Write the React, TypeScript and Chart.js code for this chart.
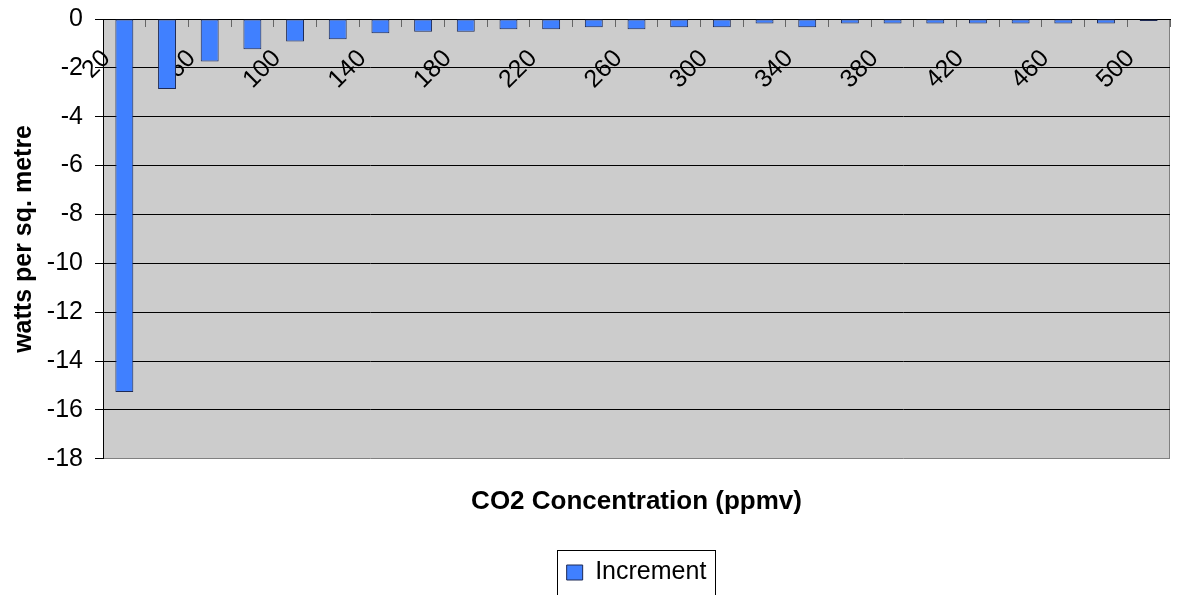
import React, { useEffect, useRef } from "react";
import { Chart, registerables } from "chart.js";

Chart.register(...registerables);

const categories: string[] = [
  "20", "40", "60", "80", "100", "120", "140", "160", "180", "200",
  "220", "240", "260", "280", "300", "320", "340", "360", "380", "400",
  "420", "440", "460", "480", "500",
];

const incrementValues: number[] = [
  -15.27, -2.86, -1.74, -1.24, -0.92, -0.83, -0.58, -0.52, -0.52, -0.42,
  -0.42, -0.34, -0.42, -0.34, -0.34, -0.18, -0.34, -0.18, -0.18, -0.18,
  -0.18, -0.18, -0.18, -0.18, -0.08,
];

const seriesLabel = "Increment";
const xTitle = "CO2 Concentration (ppmv)";
const yTitle = "watts per sq. metre";
const yMin = -18;
const yMax = 0;
const yStep = 2;

const FONT = "'Liberation Sans', Arial, Helvetica, sans-serif";

const plotBgPlugin = {
  id: "plotBg",
  beforeDraw(chart: any) {
    const { ctx, chartArea } = chart;
    if (!chartArea) return;
    ctx.save();
    ctx.fillStyle = "#CCCCCC";
    ctx.fillRect(chartArea.left, chartArea.top, chartArea.right - chartArea.left, chartArea.bottom - chartArea.top);
    ctx.strokeStyle = "#808080";
    ctx.lineWidth = 1;
    ctx.beginPath();
    ctx.moveTo(Math.round(chartArea.right) - 0.5, chartArea.top);
    ctx.lineTo(Math.round(chartArea.right) - 0.5, chartArea.bottom);
    ctx.stroke();
    ctx.restore();
  },
};

const legendBorderPlugin = {
  id: "legendBorder",
  afterDraw(chart: any) {
    const legend = chart.legend;
    if (!legend || !legend.legendHitBoxes || !legend.legendHitBoxes.length) return;
    const hb = legend.legendHitBoxes[0];
    const ctx = chart.ctx;
    ctx.save();
    ctx.strokeStyle = "#000";
    ctx.lineWidth = 1;
    const l = Math.round(hb.left - 10) + 0.5;
    const r = Math.round(hb.left + hb.width + 9) + 0.5;
    const t = Math.round(legend.top) + 0.5;
    const b = Math.round(legend.bottom) + 0.5;
    ctx.strokeRect(l, t, r - l, b - t);
    ctx.restore();
  },
};

export default function App() {
  const canvasRef = useRef<HTMLCanvasElement | null>(null);

  useEffect(() => {
    document.body.style.margin = "0";
    if (!canvasRef.current) return;
    Chart.defaults.font.family = FONT;
    Chart.defaults.color = "#000";
    const chart = new Chart(canvasRef.current, {
      type: "bar",
      data: {
        labels: categories,
        datasets: [
          {
            label: seriesLabel,
            data: incrementValues,
            backgroundColor: "#4080FF",
            borderColor: "#1E2A55",
            borderWidth: 1,
            borderSkipped: false,
            barPercentage: 0.42,
            categoryPercentage: 1,
            xAxisID: "x",
            yAxisID: "y",
          },
        ],
      },
      options: {
        responsive: true,
        maintainAspectRatio: false,
        animation: false,
        layout: { padding: { top: 19, right: 10, left: 0, bottom: 0 } },
        plugins: {
          legend: {
            display: true,
            position: "bottom",
            fullSize: false,
            labels: {
              boxWidth: 16,
              boxHeight: 15,
              padding: 10,
              color: "#000",
              font: { size: 25, family: FONT },
            },
          },
          tooltip: { enabled: false },
        },
        scales: {
          x: {
            type: "category",
            position: { y: 0 } as any,
            offset: true,
            z: 1,
            afterFit: (scale: any) => {
              scale.paddingLeft = 0;
              scale.paddingRight = 0;
            },
            grid: {
              display: true,
              drawOnChartArea: false,
              drawTicks: true,
              tickLength: 7,
              color: "#666666",
              offset: true,
            },
            border: { display: true, color: "#000", width: 1 },
            ticks: {
              autoSkip: false,
              minRotation: 45,
              maxRotation: 45,
              padding: 18,
              labelOffset: -18,
              color: "#000",
              font: { size: 25, family: FONT },
              callback: (value: any, index: number) => (index % 2 === 0 ? categories[index] : ""),
            },
          },
          x2: {
            type: "category",
            position: "bottom",
            grid: { display: false, drawTicks: false },
            border: { display: false },
            ticks: { display: false },
            title: {
              display: true,
              text: xTitle,
              color: "#000",
              font: { size: 26, weight: "bold", family: FONT },
              padding: { top: 27, bottom: 33 },
            },
          },
          y: {
            type: "linear",
            position: "left",
            min: yMin,
            max: yMax,
            afterFit: (scale: any) => {
              scale.width = 103;
              scale.paddingTop = 0;
              scale.paddingBottom = 0;
            },
            ticks: {
              stepSize: yStep,
              padding: 12,
              color: "#000",
              font: { size: 25, family: FONT },
            },
            grid: {
              display: true,
              drawOnChartArea: true,
              drawTicks: true,
              tickLength: 8,
              tickColor: "#000",
              color: (ctx: any) => (ctx.tick && ctx.tick.value === yMin ? "#808080" : "#000000"),
              lineWidth: 1,
            },
            border: { display: true, color: "#000", width: 1 },
            title: {
              display: true,
              text: yTitle,
              color: "#000",
              font: { size: 25, weight: "bold", family: FONT },
              padding: { top: 9, bottom: 0 },
            },
          },
        },
      },
      plugins: [plotBgPlugin, legendBorderPlugin],
    } as any);
    return () => {
      chart.destroy();
    };
  }, []);

  return (
    <div style={{ width: 1180, height: 595, position: "relative" }}>
      <canvas ref={canvasRef} />
    </div>
  );
}
